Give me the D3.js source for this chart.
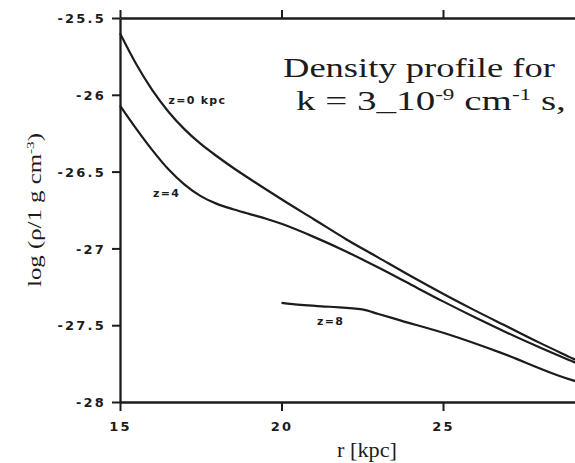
<!DOCTYPE html>
<html>
<head>
<meta charset="utf-8">
<script src="https://cdn.jsdelivr.net/npm/d3@7"></script>
<style>
  html, body { margin: 0; padding: 0; background: #fff; }
  svg { display: block; }
</style>
</head>
<body>
<svg id="chart" width="575" height="463"></svg>
<script>
// ---- data ----
const xTicks = [15, 20, 25];
const xTickLabels = ["15", "20", "25"];
const yTicks = [-25.5, -26, -26.5, -27, -27.5, -28];
const yTickLabels = ["-25.5", "-26", "-26.5", "-27", "-27.5", "-28"];

const r_z0 = [15.0, 15.5, 16.0, 16.5, 17.0, 17.5, 18.0, 18.5, 19.0, 20.0, 21.0, 22.0, 23.0, 24.0, 25.0, 26.0, 27.0, 28.0, 29.0, 29.5];
const v_z0 = [-25.60, -25.80, -25.97, -26.11, -26.225, -26.32, -26.40, -26.475, -26.545, -26.68, -26.81, -26.94, -27.06, -27.18, -27.295, -27.405, -27.51, -27.615, -27.715, -27.765];

const r_z4 = [15.0, 15.5, 16.0, 16.5, 17.0, 17.5, 18.0, 18.5, 19.0, 19.5, 20.0, 21.0, 22.0, 23.0, 24.0, 25.0, 26.0, 27.0, 28.0, 29.0, 29.5];
const v_z4 = [-26.07, -26.22, -26.36, -26.485, -26.585, -26.66, -26.71, -26.745, -26.775, -26.805, -26.84, -26.925, -27.02, -27.125, -27.235, -27.345, -27.45, -27.55, -27.645, -27.735, -27.78];

const r_z8 = [20.0, 20.6, 21.5, 22.5, 23.0, 23.7, 25.2, 26.8, 28.7, 29.5];
const v_z8 = [-27.355, -27.368, -27.38, -27.397, -27.427, -27.47, -27.562, -27.68, -27.837, -27.89];

const seriesLabels = ["z=0 kpc", "z=4", "z=8"];
const titleLine1 = "Density profile for";

// ---- layout ----
const svg = d3.select("#chart");
const ink = "#1c1c1c";
const x = d3.scaleLinear().domain([15, 30]).range([120, 604.5]);
const y = d3.scaleLinear().domain([-28, -25.5]).range([402, 18]);

const tickFont = "'DejaVu Sans', sans-serif";
const serif = "'Liberation Serif', 'Times New Roman', serif";

// stretch a text element horizontally (in its own frame) to a target width
function stretch(sel, x0, y0, target, extra) {
  const w = sel.node().getComputedTextLength();
  const s = target / w;
  sel.attr("x", 0).attr("y", 0)
    .attr("transform", `translate(${x0},${y0}) ${extra || ""} scale(${s},1)`);
}

// axes
const gLeft = svg.append("g").attr("transform", `translate(${x(15)},0)`)
  .call(d3.axisLeft(y).tickValues(yTicks).tickSize(8).tickSizeOuter(0).tickPadding(6)
    .tickFormat((d, i) => yTickLabels[i]));
const gBottom = svg.append("g").attr("transform", `translate(0,${y(-28)})`)
  .call(d3.axisBottom(x).tickValues(xTicks).tickSize(9).tickSizeOuter(0).tickPadding(11)
    .tickFormat((d, i) => xTickLabels[i]));
const gTop = svg.append("g").attr("transform", `translate(0,${y(-25.5)})`)
  .call(d3.axisTop(x).tickValues(xTicks).tickSize(8).tickSizeOuter(0).tickFormat(""));

[gLeft, gBottom, gTop].forEach(g => {
  g.selectAll(".domain").attr("stroke", ink).attr("stroke-width", 2.3);
  g.selectAll(".tick line").attr("stroke", ink).attr("stroke-width", 2);
  g.selectAll(".tick text")
    .attr("fill", ink)
    .style("font-family", tickFont)
    .style("font-size", "13px")
    .style("font-weight", "bold")
    .style("letter-spacing", "2.2px");
});
gLeft.selectAll(".tick text").attr("dy", "0.36em");
// right frame (mostly cropped)
svg.append("line").attr("x1", x(30)).attr("x2", x(30)).attr("y1", y(-25.5)).attr("y2", y(-28))
  .attr("stroke", ink).attr("stroke-width", 2.3);

// curves
const line = d3.line().x(d => x(d[0])).y(d => y(d[1])).curve(d3.curveMonotoneX);
const series = [
  d3.zip(r_z0, v_z0),
  d3.zip(r_z4, v_z4),
  d3.zip(r_z8, v_z8)
];
svg.append("g").selectAll("path").data(series).join("path")
  .attr("d", line)
  .attr("fill", "none")
  .attr("stroke", ink)
  .attr("stroke-width", 2.2);

// series labels
const labelPos = [[16.5, -26.06], [16.02, -26.665], [21.1, -27.5]];
svg.append("g").selectAll("text").data(seriesLabels).join("text")
  .attr("x", (d, i) => x(labelPos[i][0]))
  .attr("y", (d, i) => y(labelPos[i][1]))
  .attr("fill", ink)
  .style("font-family", tickFont)
  .style("font-size", "11px")
  .style("font-weight", "bold")
  .style("letter-spacing", "1.3px")
  .text(d => d);

// title
const t1 = svg.append("text")
  .attr("fill", ink)
  .style("font-family", serif).style("font-size", "27px")
  .text(titleLine1);
stretch(t1, 283, 77, 272);

const t2 = svg.append("text")
  .attr("fill", ink)
  .style("font-family", serif).style("font-size", "27px");
t2.append("tspan").text("k = 3_10");
t2.append("tspan").attr("dy", -10).style("font-size", "16px").text("-9");
t2.append("tspan").attr("dy", 10).text(" cm");
t2.append("tspan").attr("dy", -10).style("font-size", "16px").text("-1");
t2.append("tspan").attr("dy", 10).text(" s,");
stretch(t2, 296, 110, 270);

// axis titles
const xl = svg.append("text")
  .attr("fill", ink)
  .style("font-family", serif).style("font-size", "20px")
  .text("r [kpc]");
stretch(xl, 337, 457, 60);

const yl = svg.append("text")
  .attr("fill", ink)
  .style("font-family", serif).style("font-size", "18px");
yl.append("tspan").text("log (ρ/1 g cm");
yl.append("tspan").attr("dy", -7).style("font-size", "11px").text("-3");
yl.append("tspan").attr("dy", 7).text(")");
stretch(yl, 41, 287, 154, "rotate(-90)");
</script>
</body>
</html>
